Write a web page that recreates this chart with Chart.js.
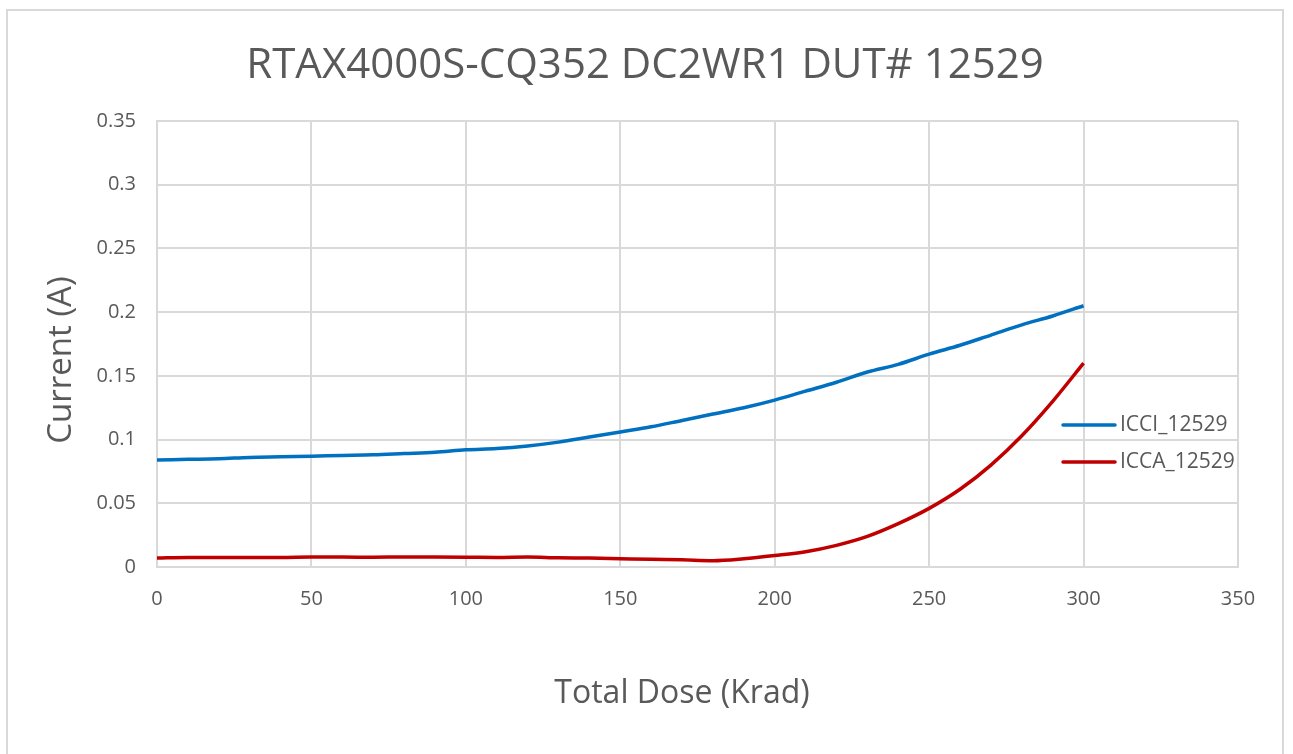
<!DOCTYPE html>
<html>
<head>
<meta charset="utf-8">
<script src="https://cdn.jsdelivr.net/npm/chart.js@4/dist/chart.umd.min.js"></script>
<style>
  html, body { margin: 0; padding: 0; background: #fff; }
  #wrap { position: relative; width: 1293px; height: 754px; }
</style>
</head>
<body>
<div id="wrap"><canvas id="doseChart" width="1293" height="754"></canvas></div>
<script>
// Data (Krad vs A)
const doseKrad = [0, 10, 20, 30, 40, 50, 60, 70, 80, 90, 100, 110, 120, 130, 140, 150, 160, 170, 180, 190, 200, 210, 220, 230, 240, 250, 260, 270, 280, 290, 300];
const icci = [0.084, 0.0845, 0.085, 0.086, 0.0865, 0.087, 0.0875, 0.088, 0.089, 0.090, 0.092, 0.093, 0.095, 0.098, 0.102, 0.106, 0.110, 0.115, 0.120, 0.125, 0.131, 0.138, 0.145, 0.153, 0.159, 0.167, 0.174, 0.182, 0.190, 0.197, 0.205];
const icca = [0.007, 0.0075, 0.0075, 0.0075, 0.0075, 0.0078, 0.0078, 0.0077, 0.0078, 0.0078, 0.0077, 0.0075, 0.0078, 0.0072, 0.007, 0.0065, 0.006, 0.0056, 0.005, 0.0065, 0.009, 0.012, 0.017, 0.024, 0.034, 0.046, 0.061, 0.080, 0.103, 0.130, 0.160];
const xTicks = [0, 50, 100, 150, 200, 250, 300, 350];
const yTicks = [0, 0.05, 0.1, 0.15, 0.2, 0.25, 0.3, 0.35];

const chartTitle = "RTAX4000S-CQ352 DC2WR1 DUT# 12529";
const xTitle = "Total Dose (Krad)";
const yTitle = "Current (A)";

const grey = "#595959";
const gridCol = "#d9d9d9";
const fontFam = "'Open Sans', 'Noto Sans', sans-serif";

const toPoints = (ys) => doseKrad.map((x, i) => ({ x, y: ys[i] }));

// frame, titles and legend drawn by hand (Excel-like placement)
const framePlugin = {
  id: "frame",
  beforeDraw(chart) {
    const c = chart.ctx;
    c.save();
    c.fillStyle = "#fff";
    c.fillRect(0, 0, chart.width, chart.height);
    c.strokeStyle = gridCol;
    c.lineWidth = 2;
    c.strokeRect(7, 10, 1276, 800);
    c.restore();
  },
  afterDraw(chart) {
    const c = chart.ctx;
    c.save();
    c.fillStyle = grey;
    c.textAlign = "center";

    c.font = "42px " + fontFam;
    c.textBaseline = "alphabetic";
    c.fillText(chartTitle, 645, 78);

    c.font = "32px " + fontFam;
    c.textBaseline = "middle";
    c.fillText(xTitle, 682, 694);

    c.save();
    c.font = "33px " + fontFam;
    c.translate(62, 360);
    c.rotate(-Math.PI / 2);
    c.fillText(yTitle, 0, 0);
    c.restore();

    c.font = "21px " + fontFam;
    c.textAlign = "left";
    chart.data.datasets.forEach((ds, i) => {
      const y = 425 + i * 37;
      c.strokeStyle = ds.borderColor;
      c.lineWidth = 3.5;
      c.lineCap = "round";
      c.beginPath();
      c.moveTo(1063, y);
      c.lineTo(1115, y);
      c.stroke();
      c.fillText(ds.label, 1120, y);
    });
    c.restore();
  }
};

new Chart(document.getElementById("doseChart"), {
  type: "line",
  data: {
    datasets: [
      { label: "ICCI_12529", data: toPoints(icci), borderColor: "#0070C0", borderWidth: 3.5, pointRadius: 0, cubicInterpolationMode: "monotone" },
      { label: "ICCA_12529", data: toPoints(icca), borderColor: "#C00000", borderWidth: 3.5, pointRadius: 0, cubicInterpolationMode: "monotone" }
    ]
  },
  options: {
    responsive: false,
    animation: false,
    layout: { padding: { left: 0, right: 55, top: 121, bottom: 0 } },
    plugins: {
      legend: { display: false },
      tooltip: { enabled: false },
      title: { display: false }
    },
    scales: {
      x: {
        type: "linear",
        min: 0, max: 350,
        afterBuildTicks: (s) => { s.ticks = xTicks.map(v => ({ value: v })); },
        afterFit: (s) => { s.height = 187; },
        grid: { color: gridCol, lineWidth: 2, drawTicks: false },
        border: { color: gridCol, width: 2 },
        ticks: { color: grey, font: { family: fontFam, size: 20 }, padding: 20, maxRotation: 0 }
      },
      y: {
        type: "linear",
        min: 0, max: 0.35,
        afterBuildTicks: (s) => { s.ticks = yTicks.map(v => ({ value: v })); },
        afterFit: (s) => { s.width = 157; },
        grid: { color: gridCol, lineWidth: 2, drawTicks: false },
        border: { color: gridCol, width: 2 },
        ticks: { color: grey, font: { family: fontFam, size: 20 }, padding: 21, callback: (v) => String(+v.toFixed(2)) }
      }
    }
  },
  plugins: [framePlugin]
});
</script>
</body>
</html>
